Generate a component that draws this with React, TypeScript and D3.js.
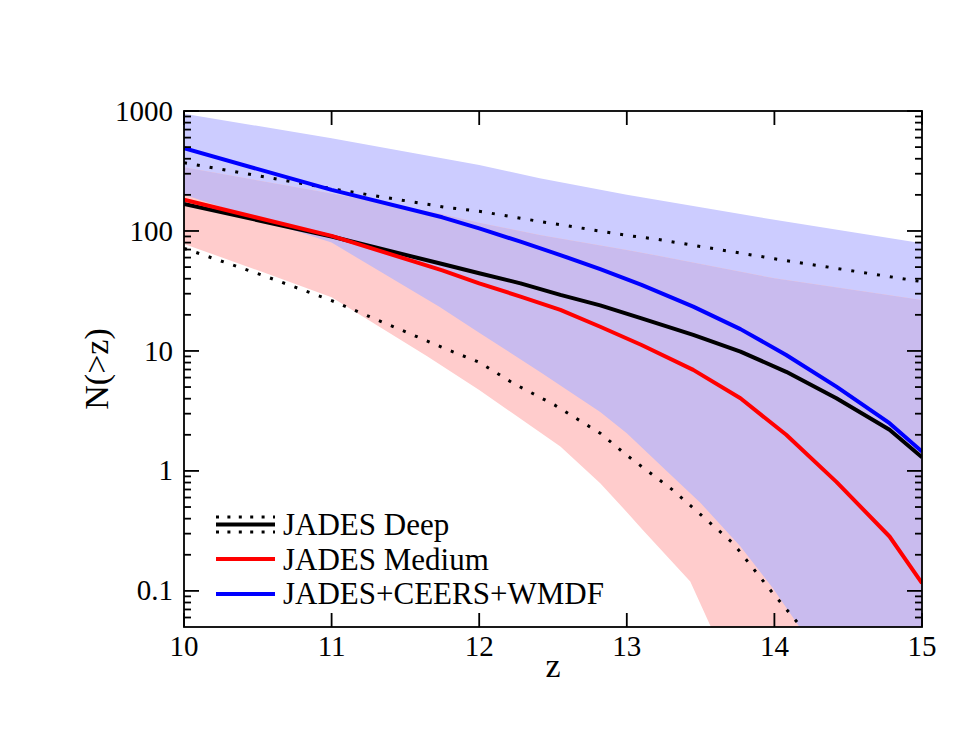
import React from "react";
import * as d3 from "d3";

// ---- data ----
const zLine = [10, 11, 11.75, 12, 12.28, 12.55, 12.82, 13.1, 13.45, 13.77, 14.08, 14.42, 14.78, 15];
const deepMid = [168, 90, 53, 44.4, 36.6, 29.3, 24, 18.7, 13.6, 9.87, 6.7, 4.03, 2.2, 1.3];
const mediumMid = [182, 91, 47, 36.6, 28.4, 22, 15.9, 11.2, 6.95, 4.03, 2.0, 0.81, 0.284, 0.116];
const combinedMid = [489, 220, 130, 105, 81.4, 63, 48, 35.5, 23.4, 15.2, 9.26, 5.04, 2.5, 1.45];

const zDeepHi = [10, 11, 11.78, 12, 12.41, 13, 13.21, 14, 15];
const deepHi = [370, 225, 157, 146, 120, 92, 85, 58.7, 37.8];
const zDeepLo = [10, 10.54, 11, 11.79, 12, 12.23, 12.51, 12.82, 13.0, 13.31, 13.72, 13.99, 14.17, 14.3];
const deepLo = [71.7, 42.4, 26.3, 10.2, 8.05, 5.38, 3.55, 2.06, 1.35, 0.695, 0.25, 0.0955, 0.052, 0.03];

const zCombHi = [10, 11, 12, 12.41, 13, 14, 15];
const combHi = [950, 592, 355, 275, 200, 124, 79];
const zCombLo = [10, 11, 11.73, 12, 12.41, 12.82, 13.0, 13.27, 13.5, 13.77, 13.99, 14.17, 14.3, 15];
const combLo = [200, 80, 23.4, 14.2, 6.7, 3.1, 2.06, 1.0, 0.54, 0.234, 0.105, 0.05, 0.03, 0.001];

const zMedHi = [10, 11, 11.73, 12, 12.41, 13, 13.22, 14, 15];
const medHi = [340, 205, 140, 117, 92.6, 69.5, 62, 40.3, 26.6];
const zMedLo = [10, 10.5, 11, 11.65, 12, 12.55, 12.82, 13.01, 13.11, 13.43, 13.57, 13.7, 15];
const medLo = [78, 47, 28, 9, 4.73, 1.6, 0.79, 0.44, 0.32, 0.12, 0.05, 0.025, 0.001];

const xTicks = [10, 11, 12, 13, 14, 15];
const yTicks = [0.1, 1, 10, 100, 1000];
const yTickLabels = ["0.1", "1", "10", "100", "1000"];
const legendLabels = ["JADES Deep", "JADES Medium", "JADES+CEERS+WMDF"];

// ---- layout ----
const W = 955, H = 738;
const L = 184, R = 922, T = 111, B = 627;
const FONT = '"Liberation Serif", "Times New Roman", Tinos, "DejaVu Serif", serif';

export default function App() {
  const x = d3.scaleLinear().domain([10, 15]).range([L, R]);
  const y = d3.scaleLog().domain([0.05, 1000]).range([B, T]);

  const line = d3.line<[number, number]>().x(d => x(d[0])).y(d => y(d[1]));
  const pts = (zs: number[], vs: number[]): [number, number][] => zs.map((z, i) => [z, vs[i]]);
  const band = (zh: number[], vh: number[], zl: number[], vl: number[]) => {
    const p = [...pts(zh, vh), ...pts(zl, vl).reverse()];
    return line(p) + "Z";
  };

  const combBand = band(zCombHi, combHi, zCombLo, combLo);
  const medBand = band(zMedHi, medHi, zMedLo, medLo);

  const minor: number[] = [];
  for (let e = -2; e <= 2; e++) {
    for (let k = 2; k <= 9; k++) {
      const v = k * Math.pow(10, e);
      if (v > 0.05 && v < 1000) minor.push(v);
    }
  }

  const sw = 1.8;
  const lw = 4;
  const ts = { fontFamily: FONT };

  return (
    <svg width={W} height={H} style={{ position: "absolute", left: 0, top: 0, background: "#fff" }}>
      <defs>
        <clipPath id="plot">
          <rect x={L} y={T} width={R - L} height={B - T} />
        </clipPath>
        <clipPath id="combClip">
          <path d={combBand} />
        </clipPath>
      </defs>
      <g clipPath="url(#plot)">
        <path d={combBand} fill="#ccccff" />
        <path d={medBand} fill="#ffcccc" />
        <g clipPath="url(#combClip)">
          <path d={medBand} fill="#c9bbee" />
        </g>
        <path d={line(pts(zDeepHi, deepHi)) as string} fill="none" stroke="#000" strokeWidth={3} strokeDasharray="3 10" />
        <path d={line(pts(zDeepLo, deepLo)) as string} fill="none" stroke="#000" strokeWidth={3} strokeDasharray="3 10" />
        <path d={line(pts(zLine, combinedMid)) as string} fill="none" stroke="#0000ff" strokeWidth={lw} strokeLinejoin="round" />
        <path d={line(pts(zLine, deepMid)) as string} fill="none" stroke="#000" strokeWidth={lw} strokeLinejoin="round" />
        <path d={line(pts(zLine, mediumMid)) as string} fill="none" stroke="#ff0000" strokeWidth={lw} strokeLinejoin="round" />
      </g>

      {/* frame */}
      <rect x={L} y={T} width={R - L} height={B - T} fill="none" stroke="#000" strokeWidth={sw} />

      {/* x ticks */}
      {xTicks.map(t => (
        <g key={"xt" + t}>
          <line x1={x(t)} x2={x(t)} y1={B} y2={B - 14} stroke="#000" strokeWidth={sw} />
          <line x1={x(t)} x2={x(t)} y1={T} y2={T + 14} stroke="#000" strokeWidth={sw} />
          <text x={x(t)} y={B + 29} textAnchor="middle" style={ts} fontSize={29}>{t}</text>
        </g>
      ))}

      {/* y ticks */}
      {yTicks.map((t, i) => (
        <g key={"yt" + t}>
          <line x1={L} x2={L + 15} y1={y(t)} y2={y(t)} stroke="#000" strokeWidth={sw} />
          <line x1={R} x2={R - 15} y1={y(t)} y2={y(t)} stroke="#000" strokeWidth={sw} />
          <text x={173} y={y(t)} dy="0.33em" textAnchor="end" style={ts} fontSize={29}>{yTickLabels[i]}</text>
        </g>
      ))}
      {minor.map(t => (
        <g key={"ym" + t}>
          <line x1={L} x2={L + 7} y1={y(t)} y2={y(t)} stroke="#000" strokeWidth={sw} />
          <line x1={R} x2={R - 7} y1={y(t)} y2={y(t)} stroke="#000" strokeWidth={sw} />
        </g>
      ))}

      {/* axis titles */}
      <text x={553} y={677} textAnchor="middle" style={ts} fontSize={34}>z</text>
      <text transform={`translate(108,${(T + B) / 2}) rotate(-90)`} textAnchor="middle" style={ts} fontSize={34}>N(&gt;z)</text>

      {/* legend */}
      <g>
        <line x1={216} x2={275} y1={517} y2={517} stroke="#000" strokeWidth={3} strokeDasharray="3 8.4" />
        <line x1={216} x2={275} y1={524.5} y2={524.5} stroke="#000" strokeWidth={lw} />
        <line x1={216} x2={275} y1={532} y2={532} stroke="#000" strokeWidth={3} strokeDasharray="3 8.4" />
        <text x={283} y={535} style={ts} fontSize={31}>{legendLabels[0]}</text>
        <line x1={216} x2={275} y1={559} y2={559} stroke="#ff0000" strokeWidth={lw} />
        <text x={283} y={570} style={ts} fontSize={31}>{legendLabels[1]}</text>
        <line x1={216} x2={275} y1={594} y2={594} stroke="#0000ff" strokeWidth={lw} />
        <text x={283} y={604} style={ts} fontSize={31}>{legendLabels[2]}</text>
      </g>
    </svg>
  );
}
